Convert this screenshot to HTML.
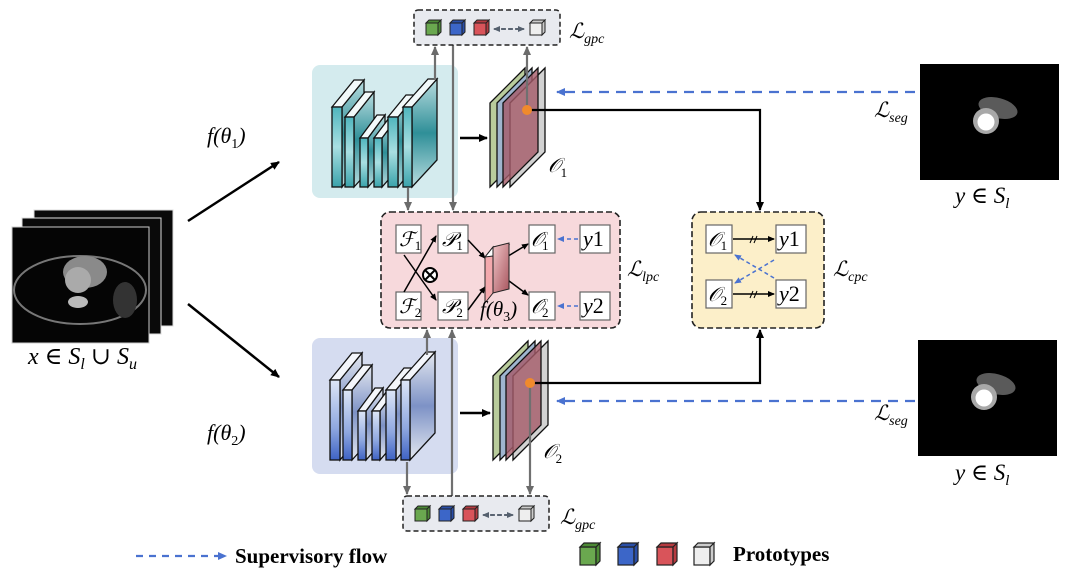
<!DOCTYPE html>
<html><head><meta charset="utf-8"><style>
html,body{margin:0;padding:0;background:#fff;}
svg{display:block;}
text{font-family:"Liberation Serif","DejaVu Serif",serif;}
.m{font-style:italic;}
</style></head><body>
<svg width="1068" height="574" viewBox="0 0 1068 574" xmlns="http://www.w3.org/2000/svg">
<defs>
<marker id="ak" markerWidth="10" markerHeight="10" refX="8" refY="5" orient="auto" markerUnits="userSpaceOnUse"><path d="M0,1 L9,5 L0,9 z" fill="#000"/></marker>
<marker id="ag" markerWidth="10" markerHeight="10" refX="8" refY="5" orient="auto" markerUnits="userSpaceOnUse"><path d="M0,1 L9,5 L0,9 z" fill="#6b6b6b"/></marker>
<marker id="ab" markerWidth="10" markerHeight="10" refX="8" refY="5" orient="auto" markerUnits="userSpaceOnUse"><path d="M0,1 L9,5 L0,9 z" fill="#4a72d0"/></marker>
<marker id="as" markerWidth="8" markerHeight="8" refX="6" refY="4" orient="auto" markerUnits="userSpaceOnUse"><path d="M0,1 L7,4 L0,7 z" fill="#000"/></marker>
<marker id="abs" markerWidth="8" markerHeight="8" refX="6" refY="4" orient="auto" markerUnits="userSpaceOnUse"><path d="M0,1 L7,4 L0,7 z" fill="#4a72d0"/></marker>
<marker id="agr" markerWidth="8" markerHeight="8" refX="6" refY="4" orient="auto" markerUnits="userSpaceOnUse"><path d="M0,1 L7,4 L0,7 z" fill="#55606e"/></marker>
<linearGradient id="tf" x1="0" y1="0" x2="0" y2="1"><stop offset="0" stop-color="#4fb5bd"/><stop offset="0.5" stop-color="#a9dfe2"/><stop offset="1" stop-color="#3aa3ab"/></linearGradient>
<linearGradient id="ts" x1="0" y1="0" x2="0" y2="1"><stop offset="0" stop-color="#b9dde0"/><stop offset="0.5" stop-color="#2f8f98"/><stop offset="1" stop-color="#b9dde0"/></linearGradient>
<linearGradient id="bf" x1="0" y1="0" x2="0" y2="1"><stop offset="0" stop-color="#dde6f7"/><stop offset="0.6" stop-color="#8fa8e0"/><stop offset="1" stop-color="#3e62c4"/></linearGradient>
<linearGradient id="bs" x1="0" y1="0" x2="0" y2="1"><stop offset="0" stop-color="#e4e8f0"/><stop offset="0.5" stop-color="#7d92c6"/><stop offset="1" stop-color="#e4e8f0"/></linearGradient>
<linearGradient id="pk" x1="0" y1="0" x2="1" y2="1"><stop offset="0" stop-color="#f0c6c8"/><stop offset="1" stop-color="#a8555e"/></linearGradient>
</defs>

<rect x="34" y="210" width="139" height="116" fill="#0a0a0a" stroke="#ddd" stroke-width="1"/>
<rect x="22" y="218" width="139" height="116" fill="#0a0a0a" stroke="#ddd" stroke-width="1"/>
<rect x="12" y="227" width="137" height="116" fill="#050505" stroke="#ccc" stroke-width="1"/>
<ellipse cx="80" cy="290" rx="66" ry="34" fill="none" stroke="#777" stroke-width="2"/>
<ellipse cx="85" cy="272" rx="22" ry="16" fill="#8a8a8a"/>
<circle cx="78" cy="280" r="13" fill="#aaa"/>
<ellipse cx="78" cy="302" rx="10" ry="6" fill="#bbb"/>
<ellipse cx="125" cy="300" rx="12" ry="18" fill="#333"/>
<text x="28" y="364" font-size="24" class="m">x ∈ S<tspan font-size="16" dy="5">l</tspan><tspan dy="-5" font-style="normal"> ∪ </tspan>S<tspan font-size="16" dy="5">u</tspan></text>

<line x1="188" y1="221" x2="279" y2="162" stroke="#000" stroke-width="2.5" marker-end="url(#ak)"/>
<line x1="188" y1="304" x2="279" y2="377" stroke="#000" stroke-width="2.5" marker-end="url(#ak)"/>
<text x="207" y="143" font-size="22" class="m">f(θ<tspan font-size="14" dy="5" font-style="normal">1</tspan><tspan dy="-5">)</tspan></text>
<text x="207" y="440" font-size="22" class="m">f(θ<tspan font-size="14" dy="5" font-style="normal">2</tspan><tspan dy="-5">)</tspan></text>

<rect x="312" y="65" width="146" height="133" rx="8" fill="#d4ebee"/>
<rect x="312" y="338" width="146" height="136" rx="8" fill="#d5dcf0"/>

<g stroke="#111" stroke-width="1.3">
<path d="M342,107 L364,80 L364,160 L342,187 Z" fill="url(#ts)"/><path d="M332,107 L354,80 L364,80 L342,107 Z" fill="#f2f9fa"/><rect x="332" y="107" width="10" height="80" fill="url(#tf)"/>
<path d="M354,117 L374,92 L374,165 L354,187 Z" fill="url(#ts)"/><path d="M345,117 L365,92 L374,92 L354,117 Z" fill="#f2f9fa"/><rect x="345" y="117" width="9" height="70" fill="url(#tf)"/>
<path d="M368,138 L385,115 L385,168 L368,187 Z" fill="url(#ts)"/><path d="M360,138 L377,115 L385,115 L368,138 Z" fill="#f2f9fa"/><rect x="360" y="138" width="8" height="49" fill="url(#tf)"/>
<path d="M382,138 L397,118 L397,170 L382,187 Z" fill="url(#ts)"/><path d="M374,138 L389,118 L397,118 L382,138 Z" fill="#f2f9fa"/><rect x="374" y="138" width="8" height="49" fill="url(#tf)"/>
<path d="M398,117 L416,95 L416,165 L398,187 Z" fill="url(#ts)"/><path d="M388,117 L406,95 L416,95 L398,117 Z" fill="#f2f9fa"/><rect x="388" y="117" width="10" height="70" fill="url(#tf)"/>
<path d="M412,107 L437,79 L437,160 L412,187 Z" fill="url(#ts)"/><path d="M403,107 L428,79 L437,79 L412,107 Z" fill="#f2f9fa"/><rect x="403" y="107" width="9" height="80" fill="url(#tf)"/>
</g>
<g stroke="#111" stroke-width="1.3" transform="translate(-2,273)">
<path d="M342,107 L364,80 L364,160 L342,187 Z" fill="url(#bs)"/><path d="M332,107 L354,80 L364,80 L342,107 Z" fill="#f4f6fb"/><rect x="332" y="107" width="10" height="80" fill="url(#bf)"/>
<path d="M354,117 L374,92 L374,165 L354,187 Z" fill="url(#bs)"/><path d="M345,117 L365,92 L374,92 L354,117 Z" fill="#f4f6fb"/><rect x="345" y="117" width="9" height="70" fill="url(#bf)"/>
<path d="M368,138 L385,115 L385,168 L368,187 Z" fill="url(#bs)"/><path d="M360,138 L377,115 L385,115 L368,138 Z" fill="#f4f6fb"/><rect x="360" y="138" width="8" height="49" fill="url(#bf)"/>
<path d="M382,138 L397,118 L397,170 L382,187 Z" fill="url(#bs)"/><path d="M374,138 L389,118 L397,118 L382,138 Z" fill="#f4f6fb"/><rect x="374" y="138" width="8" height="49" fill="url(#bf)"/>
<path d="M398,117 L416,95 L416,165 L398,187 Z" fill="url(#bs)"/><path d="M388,117 L406,95 L416,95 L398,117 Z" fill="#f4f6fb"/><rect x="388" y="117" width="10" height="70" fill="url(#bf)"/>
<path d="M412,107 L437,79 L437,160 L412,187 Z" fill="url(#bs)"/><path d="M403,107 L428,79 L437,79 L412,107 Z" fill="#f4f6fb"/><rect x="403" y="107" width="9" height="80" fill="url(#bf)"/>
</g>

<line x1="460" y1="138" x2="487" y2="138" stroke="#000" stroke-width="2.5" marker-end="url(#ak)"/>
<line x1="460" y1="413" x2="490" y2="413" stroke="#000" stroke-width="2.5" marker-end="url(#ak)"/>

<g stroke="#111" stroke-width="1.3">
<path d="M490,103 L525,68 L525,152 L490,187 Z" fill="#b9cc9c"/>
<path d="M497,103 L532,68 L532,152 L497,187 Z" fill="#9fb5cf"/>
<path d="M510,103 L545,68 L545,152 L510,187 Z" fill="#d2d2d2"/>
<path d="M503,103 L538,68 L538,152 L503,187 Z" fill="#a45a68" fill-opacity="0.8"/>
</g>
<text x="548" y="172" font-size="20" class="m">𝒪<tspan font-size="13" dy="5" font-style="normal">1</tspan></text>
<g stroke="#111" stroke-width="1.3" transform="translate(3,273)">
<path d="M490,103 L525,68 L525,152 L490,187 Z" fill="#b9cc9c"/>
<path d="M497,103 L532,68 L532,152 L497,187 Z" fill="#9fb5cf"/>
<path d="M510,103 L545,68 L545,152 L510,187 Z" fill="#d2d2d2"/>
<path d="M503,103 L538,68 L538,152 L503,187 Z" fill="#a45a68" fill-opacity="0.8"/>
</g>
<text x="543" y="458" font-size="20" class="m">𝒪<tspan font-size="13" dy="5" font-style="normal">2</tspan></text>

<g stroke="#707070" stroke-width="2.2" fill="none">
<line x1="435" y1="80" x2="435" y2="47" marker-end="url(#ag)"/>
<line x1="453" y1="45" x2="453" y2="210" marker-end="url(#ag)"/>
<line x1="408" y1="188" x2="408" y2="210" marker-end="url(#ag)"/>
<line x1="527" y1="110" x2="527" y2="47" marker-end="url(#ag)"/>
<line x1="427" y1="355" x2="427" y2="330" marker-end="url(#ag)"/>
<line x1="452" y1="496" x2="452" y2="330" marker-end="url(#ag)"/>
<line x1="407" y1="462" x2="407" y2="494" marker-end="url(#ag)"/>
<line x1="530" y1="384" x2="530" y2="494" marker-end="url(#ag)"/>
</g>

<polyline points="527,110 760,110 760,210" fill="none" stroke="#000" stroke-width="2.2" marker-end="url(#ak)"/>
<polyline points="530,383 760,383 760,330" fill="none" stroke="#000" stroke-width="2.2" marker-end="url(#ak)"/>
<circle cx="527" cy="110" r="5" fill="#f08a2c"/>
<circle cx="530" cy="383" r="5" fill="#f08a2c"/>

<line x1="915" y1="92" x2="557" y2="92" stroke="#4a72d0" stroke-width="2.2" stroke-dasharray="10,7" marker-end="url(#ab)"/>
<line x1="915" y1="401" x2="557" y2="401" stroke="#4a72d0" stroke-width="2.2" stroke-dasharray="10,7" marker-end="url(#ab)"/>

<rect x="920" y="64" width="139" height="116" fill="#000"/>
<ellipse cx="998" cy="108" rx="20" ry="10" fill="#5a5a5a" transform="rotate(15 998 108)"/>
<circle cx="986" cy="121" r="13" fill="#a8a8a8"/>
<circle cx="986" cy="122" r="8.5" fill="#fff"/>
<rect x="918" y="340" width="139" height="116" fill="#000"/>
<ellipse cx="996" cy="384" rx="20" ry="10" fill="#5a5a5a" transform="rotate(15 996 384)"/>
<circle cx="984" cy="397" r="13" fill="#a8a8a8"/>
<circle cx="984" cy="398" r="8.5" fill="#fff"/>
<text x="874" y="117" font-size="21" class="m">ℒ<tspan font-size="14" dy="5">seg</tspan></text>
<text x="874" y="420" font-size="21" class="m">ℒ<tspan font-size="14" dy="5">seg</tspan></text>
<text x="955" y="203" font-size="23" class="m">y <tspan font-style="normal">∈</tspan> S<tspan font-size="15" dy="5">l</tspan></text>
<text x="955" y="480" font-size="23" class="m">y <tspan font-style="normal">∈</tspan> S<tspan font-size="15" dy="5">l</tspan></text>

<g>
<rect x="414" y="10" width="146" height="35" rx="4" fill="#e8eaef" stroke="#222" stroke-width="1.5" stroke-dasharray="5,3"/>
<g stroke="#222" stroke-width="1">
<rect x="426" y="23" width="12" height="12" fill="#6aa84f"/><path d="M426,23 l3,-3 h12 l-3,3 z M438,23 l3,-3 v12 l-3,3 z" fill="#4c8a35"/>
<rect x="450" y="23" width="12" height="12" fill="#3c66c8"/><path d="M450,23 l3,-3 h12 l-3,3 z M462,23 l3,-3 v12 l-3,3 z" fill="#2a4fa8"/>
<rect x="474" y="23" width="12" height="12" fill="#d9545a"/><path d="M474,23 l3,-3 h12 l-3,3 z M486,23 l3,-3 v12 l-3,3 z" fill="#b63a40"/>
<rect x="530" y="23" width="12" height="12" fill="#eee"/><path d="M530,23 l3,-3 h12 l-3,3 z M542,23 l3,-3 v12 l-3,3 z" fill="#ccc"/>
</g>
<line x1="494" y1="29" x2="524" y2="29" stroke="#55606e" stroke-width="1.8" stroke-dasharray="4,3" marker-end="url(#agr)"/>
<line x1="520" y1="29" x2="494" y2="29" stroke="#55606e" stroke-width="1.8" stroke-dasharray="4,3" marker-end="url(#agr)"/>
</g>
<text x="569" y="38" font-size="21" class="m">ℒ<tspan font-size="14" dy="5">gpc</tspan></text>
<g transform="translate(-11,486)">
<rect x="414" y="10" width="146" height="35" rx="4" fill="#e8eaef" stroke="#222" stroke-width="1.5" stroke-dasharray="5,3"/>
<g stroke="#222" stroke-width="1">
<rect x="426" y="23" width="12" height="12" fill="#6aa84f"/><path d="M426,23 l3,-3 h12 l-3,3 z M438,23 l3,-3 v12 l-3,3 z" fill="#4c8a35"/>
<rect x="450" y="23" width="12" height="12" fill="#3c66c8"/><path d="M450,23 l3,-3 h12 l-3,3 z M462,23 l3,-3 v12 l-3,3 z" fill="#2a4fa8"/>
<rect x="474" y="23" width="12" height="12" fill="#d9545a"/><path d="M474,23 l3,-3 h12 l-3,3 z M486,23 l3,-3 v12 l-3,3 z" fill="#b63a40"/>
<rect x="530" y="23" width="12" height="12" fill="#eee"/><path d="M530,23 l3,-3 h12 l-3,3 z M542,23 l3,-3 v12 l-3,3 z" fill="#ccc"/>
</g>
<line x1="494" y1="29" x2="524" y2="29" stroke="#55606e" stroke-width="1.8" stroke-dasharray="4,3" marker-end="url(#agr)"/>
<line x1="520" y1="29" x2="494" y2="29" stroke="#55606e" stroke-width="1.8" stroke-dasharray="4,3" marker-end="url(#agr)"/>
</g>
<text x="560" y="524" font-size="21" class="m">ℒ<tspan font-size="14" dy="5">gpc</tspan></text>

<rect x="381" y="212" width="239" height="116" rx="9" fill="#f7d9dc" stroke="#222" stroke-width="1.6" stroke-dasharray="6,3"/>
<g stroke="#666" stroke-width="1.2" fill="#fff">
<rect x="396" y="225" width="25" height="28"/><rect x="438" y="225" width="30" height="28"/>
<rect x="396" y="292" width="25" height="28"/><rect x="438" y="292" width="30" height="28"/>
<rect x="529" y="225" width="26" height="28"/><rect x="580" y="225" width="30" height="28"/>
<rect x="529" y="292" width="26" height="28"/><rect x="580" y="292" width="30" height="28"/>
</g>
<g font-size="20" class="m">
<text x="399" y="246">ℱ<tspan font-size="13" dy="4" font-style="normal">1</tspan></text>
<text x="399" y="313">ℱ<tspan font-size="13" dy="4" font-style="normal">2</tspan></text>
<text x="442" y="246">𝒫<tspan font-size="13" dy="4" font-style="normal">1</tspan></text>
<text x="442" y="313">𝒫<tspan font-size="13" dy="4" font-style="normal">2</tspan></text>
<text x="531" y="246">𝒪<tspan font-size="11" dy="-7" font-style="normal">′</tspan><tspan font-size="13" dy="11" dx="-4" font-style="normal">1</tspan></text>
<text x="531" y="313">𝒪<tspan font-size="11" dy="-7" font-style="normal">′</tspan><tspan font-size="13" dy="11" dx="-4" font-style="normal">2</tspan></text>
<text x="583" y="246" font-size="22">y<tspan font-style="normal">1</tspan></text>
<text x="583" y="313" font-size="22">y<tspan font-style="normal">2</tspan></text>
</g>
<g stroke="#000" stroke-width="1.5">
<line x1="404" y1="255" x2="436" y2="300" marker-end="url(#as)"/>
<line x1="404" y1="292" x2="436" y2="236" marker-end="url(#as)"/>
<line x1="468" y1="240" x2="485" y2="258" marker-end="url(#as)"/>
<line x1="468" y1="310" x2="485" y2="287" marker-end="url(#as)"/>
<line x1="505" y1="258" x2="528" y2="244" marker-end="url(#as)"/>
<line x1="505" y1="278" x2="528" y2="295" marker-end="url(#as)"/>
</g>
<circle cx="430" cy="275" r="7" fill="#fff" stroke="#000" stroke-width="2"/>
<path d="M425,270 L435,280 M435,270 L425,280" stroke="#000" stroke-width="2"/>
<path d="M485,257 L493,247 L493,293 L485,303 Z" fill="#f3a9ad" stroke="#222" stroke-width="1"/>
<path d="M485,257 L493,247 L509,245 L501,255 Z" fill="#fff" stroke="#222" stroke-width="1"/>
<path d="M493,247 L509,243 L509,289 L493,293 Z" fill="url(#pk)" stroke="#222" stroke-width="1"/>
<text x="480" y="316" font-size="21" class="m">f(θ<tspan font-size="14" dy="5" font-style="normal">3</tspan><tspan dy="-5">)</tspan></text>
<line x1="578" y1="239" x2="558" y2="239" stroke="#4a72d0" stroke-width="1.5" stroke-dasharray="4,3" marker-end="url(#abs)"/>
<line x1="578" y1="306" x2="558" y2="306" stroke="#4a72d0" stroke-width="1.5" stroke-dasharray="4,3" marker-end="url(#abs)"/>
<text x="627" y="276" font-size="21" class="m">ℒ<tspan font-size="14" dy="5">lpc</tspan></text>

<rect x="692" y="212" width="132" height="116" rx="9" fill="#fcefc9" stroke="#222" stroke-width="1.6" stroke-dasharray="6,3"/>
<g stroke="#666" stroke-width="1.2" fill="#fff">
<rect x="706" y="225" width="26" height="28"/><rect x="776" y="225" width="30" height="28"/>
<rect x="706" y="280" width="26" height="28"/><rect x="776" y="280" width="30" height="28"/>
</g>
<g font-size="20" class="m">
<text x="708" y="246">𝒪<tspan font-size="13" dy="4" font-style="normal">1</tspan></text>
<text x="708" y="301">𝒪<tspan font-size="13" dy="4" font-style="normal">2</tspan></text>
<text x="779" y="246" font-size="22">y<tspan font-style="normal">1</tspan></text>
<text x="779" y="301" font-size="22">y<tspan font-style="normal">2</tspan></text>
</g>
<line x1="733" y1="239" x2="774" y2="239" stroke="#000" stroke-width="1.5" marker-end="url(#as)"/>
<line x1="733" y1="294" x2="774" y2="294" stroke="#000" stroke-width="1.5" marker-end="url(#as)"/>
<path d="M750,243 l3,-7 M754,243 l3,-7 M750,298 l3,-7 M754,298 l3,-7" stroke="#000" stroke-width="1"/>
<line x1="774" y1="260" x2="735" y2="283" stroke="#4a72d0" stroke-width="1.5" stroke-dasharray="4,3" marker-end="url(#abs)"/>
<line x1="774" y1="278" x2="735" y2="255" stroke="#4a72d0" stroke-width="1.5" stroke-dasharray="4,3" marker-end="url(#abs)"/>
<text x="833" y="276" font-size="21" class="m">ℒ<tspan font-size="14" dy="5">cpc</tspan></text>

<line x1="136" y1="556" x2="226" y2="556" stroke="#4a72d0" stroke-width="2.2" stroke-dasharray="7,6" marker-end="url(#ab)"/>
<text x="235" y="563" font-size="21" font-weight="bold">Supervisory flow</text>
<g stroke="#222" stroke-width="1.2">
<rect x="580" y="547" width="16" height="18" fill="#6aa84f"/><path d="M580,547 l4,-4 h16 l-4,4 z M596,547 l4,-4 v18 l-4,4 z" fill="#4c8a35"/>
<rect x="618" y="547" width="16" height="18" fill="#3c66c8"/><path d="M618,547 l4,-4 h16 l-4,4 z M634,547 l4,-4 v18 l-4,4 z" fill="#2a4fa8"/>
<rect x="657" y="547" width="16" height="18" fill="#d9545a"/><path d="M657,547 l4,-4 h16 l-4,4 z M673,547 l4,-4 v18 l-4,4 z" fill="#b63a40"/>
<rect x="694" y="547" width="16" height="18" fill="#eee"/><path d="M694,547 l4,-4 h16 l-4,4 z M710,547 l4,-4 v18 l-4,4 z" fill="#ccc"/>
</g>
<text x="733" y="561" font-size="21" font-weight="bold">Prototypes</text>
</svg>
</body></html>
